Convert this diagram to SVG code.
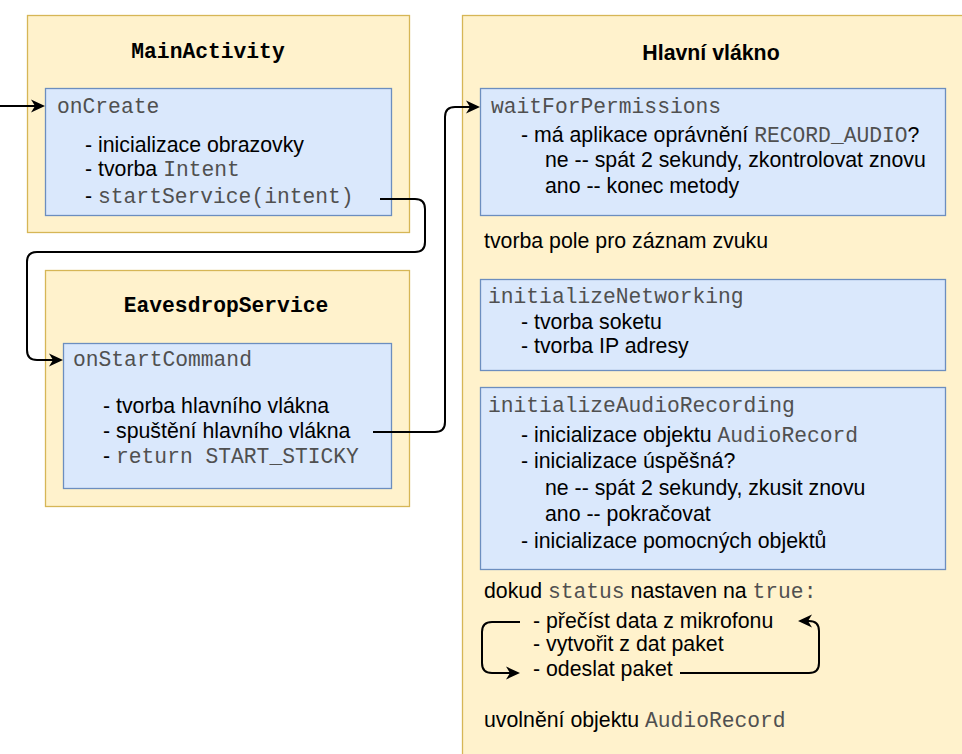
<svg xmlns="http://www.w3.org/2000/svg" width="962" height="754" viewBox="0 0 962 754">
  <defs>
    <style>
      .outer { fill: #fff2cc; stroke: #d6b656; stroke-width: 1.3; }
      .inner { fill: #dae8fc; stroke: #6c8ebf; stroke-width: 1.3; }
      text { font-family: "Liberation Sans", Arial, sans-serif; font-size: 21.3px; fill: #000; }
      .mono { font-family: "Liberation Mono", "Courier New", monospace; fill: #505050; }
      .title-mono { font-family: "Liberation Mono", "Courier New", monospace; font-weight: bold; fill: #000; }
      .title { font-weight: bold; }
      .edge { fill: none; stroke: #000; stroke-width: 2; }
    </style>
    <marker id="arrow" markerUnits="userSpaceOnUse" markerWidth="16" markerHeight="14" refX="4" refY="7" orient="auto">
      <path d="M0,0.5 L14,7 L0,13.5 L4,7 Z" fill="#000"/>
    </marker>
  </defs>

  <!-- MainActivity -->
  <g id="main-activity">
    <rect class="outer" x="27.5" y="15.5" width="382" height="217"/>
    <text class="title-mono" x="208" y="58" text-anchor="middle">MainActivity</text>
    <g id="on-create">
      <rect class="inner" x="45.5" y="88.5" width="346" height="127"/>
      <text class="mono" x="57" y="113">onCreate</text>
      <text x="85" y="152">- inicializace obrazovky</text>
      <text x="85" y="176">- tvorba <tspan class="mono">Intent</tspan></text>
      <text x="85" y="203">- <tspan class="mono">startService(intent)</tspan></text>
    </g>
  </g>

  <!-- EavesdropService -->
  <g id="eavesdrop-service">
    <rect class="outer" x="45.5" y="270.5" width="364" height="236"/>
    <text class="title-mono" x="226" y="312" text-anchor="middle">EavesdropService</text>
    <g id="on-start-command">
      <rect class="inner" x="63.5" y="343.5" width="328" height="145"/>
      <text class="mono" x="73" y="366">onStartCommand</text>
      <text x="103" y="413">- tvorba hlavního vlákna</text>
      <text x="103" y="438">- spuštění hlavního vlákna</text>
      <text x="103" y="463">- <tspan class="mono">return START_STICKY</tspan></text>
    </g>
  </g>

  <!-- Hlavní vlákno -->
  <g id="main-thread">
    <rect class="outer" x="462.5" y="15.5" width="520" height="760"/>
    <text class="title" x="711" y="60" text-anchor="middle">Hlavní vlákno</text>

    <g id="wait-for-permissions">
      <rect class="inner" x="480.5" y="88.5" width="465" height="127"/>
      <text class="mono" x="491" y="113">waitForPermissions</text>
      <text x="521" y="142">- má aplikace oprávnění <tspan class="mono">RECORD_AUDIO</tspan>?</text>
      <text x="545" y="167">ne -- spát 2 sekundy, zkontrolovat znovu</text>
      <text x="545" y="193">ano -- konec metody</text>
    </g>

    <text x="484" y="248">tvorba pole pro záznam zvuku</text>

    <g id="initialize-networking">
      <rect class="inner" x="480.5" y="279.5" width="465" height="91"/>
      <text class="mono" x="488" y="303">initializeNetworking</text>
      <text x="521" y="329">- tvorba soketu</text>
      <text x="521" y="353">- tvorba IP adresy</text>
    </g>

    <g id="initialize-audio-recording">
      <rect class="inner" x="480.5" y="387.5" width="465" height="182"/>
      <text class="mono" x="488" y="412">initializeAudioRecording</text>
      <text x="521" y="442">- inicializace objektu <tspan class="mono">AudioRecord</tspan></text>
      <text x="521" y="468">- inicializace úspěšná?</text>
      <text x="545" y="495">ne -- spát 2 sekundy, zkusit znovu</text>
      <text x="545" y="521">ano -- pokračovat</text>
      <text x="521" y="548">- inicializace pomocných objektů</text>
    </g>

    <text x="484" y="598">dokud <tspan class="mono">status</tspan> nastaven na <tspan class="mono">true:</tspan></text>
    <text x="533" y="628">- přečíst data z mikrofonu</text>
    <text x="533" y="651">- vytvořit z dat paket</text>
    <text x="533" y="676">- odeslat paket</text>
    <text x="484" y="727">uvolnění objektu <tspan class="mono">AudioRecord</tspan></text>
  </g>

  <!-- Connectors -->
  <g id="connectors">
    <path class="edge" d="M0,106 H35" marker-end="url(#arrow)"/>
    <path class="edge" d="M380,199 H415 Q425,199 425,209 V242 Q425,252 415,252 H37 Q27,252 27,262 V350 Q27,360 37,360 H53" marker-end="url(#arrow)"/>
    <path class="edge" d="M373,432 H435 Q445,432 445,422 V117 Q445,107 455,107 H470" marker-end="url(#arrow)"/>
    <path class="edge" d="M520,622 H492 Q482,622 482,632 V663 Q482,673 492,673 H510" marker-end="url(#arrow)"/>
    <path class="edge" d="M680,673 H809 Q819,673 819,663 V631 Q819,621 809,621 H808" marker-end="url(#arrow)"/>
  </g>
</svg>
